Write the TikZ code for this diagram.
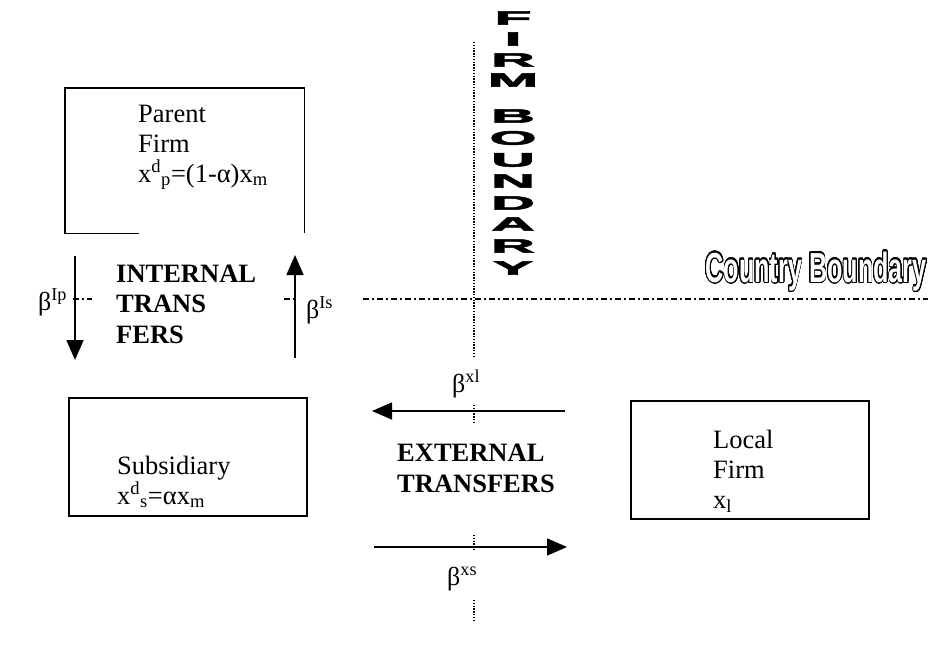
\documentclass[tikz,border=0pt]{standalone}
\usepackage{fontspec}
\setmainfont{Liberation Serif}
\newfontfamily\heavysans{Liberation Sans Bold}[FakeBold=2.5]
\newfontfamily\roundsans{Liberation Sans Bold}
\usepackage{contour}
\contourlength{1.3pt}
\contournumber{32}
\usetikzlibrary{arrows.meta}
\tikzset{
  boxline/.style={line width=1.6pt},
  bigarrow/.style={line width=1.6pt,-{Triangle[length=20pt,width=17pt]}},
  dashdotline/.style={line width=1.4pt,dash pattern=on 6pt off 3pt on 2pt off 3pt},
  dottedline/.style={line width=1.4pt,dash pattern=on 1.4pt off 1.4pt},
  boxtext/.style={anchor=base west,align=left,inner sep=0pt,font=\fontsize{26.5}{30}\selectfont},
  boldtext/.style={anchor=base west,align=left,inner sep=0pt,font=\fontsize{26.5}{30.5}\selectfont\bfseries},
  betalabel/.style={anchor=base west,inner sep=0pt,font=\fontsize{26}{30}\selectfont},
  firmletter/.style={inner sep=0pt,font=\fontsize{19.5}{19.5}\heavysans},
  frame/.style={inner sep=0pt,anchor=north west},
}
\newcommand{\fl}[1]{\scalebox{3.1}[1]{#1}}
\begin{document}
\begin{tikzpicture}[x=1pt,y=-1pt]
\useasboundingbox (0,0) rectangle (936,657);

% boundaries
\coordinate (cbA1) at (73,299);  \coordinate (cbA2) at (92,299);
\coordinate (cbB1) at (284,299); \coordinate (cbB2) at (298,299);
\coordinate (cbC1) at (363,299); \coordinate (cbC2) at (928,299);
\draw[dashdotline] (cbA1) -- (cbA2);
\draw[dashdotline] (cbB1) -- (cbB2);
\draw[dashdotline] (cbC1) -- (cbC2);

\coordinate (fb1) at (474,42);  \coordinate (fb2) at (474,357);
\coordinate (fb3) at (474,405); \coordinate (fb4) at (474,424);
\coordinate (fb5) at (474,535); \coordinate (fb6) at (474,550);
\coordinate (fb7) at (474,600); \coordinate (fb8) at (474,620);
\draw[dottedline] (fb1) -- (fb2);
\draw[dottedline] (fb3) -- (fb4);
\draw[dottedline] (fb5) -- (fb6);
\draw[dottedline] (fb7) -- (fb8);

% FIRM BOUNDARY letters
\node[firmletter] (f1) at (513,18) {\fl{F}};
\node[firmletter] (f2) at (513,39) {\fl{I}};
\node[firmletter] (f3) at (513,60) {\fl{R}};
\node[firmletter] (f4) at (513,80) {\fl{M}};
\node[firmletter] (f5) at (513,116) {\fl{B}};
\node[firmletter] (f6) at (513,138) {\fl{O}};
\node[firmletter] (f7) at (513,160) {\fl{U}};
\node[firmletter] (f8) at (513,181) {\fl{N}};
\node[firmletter] (f9) at (513,203) {\fl{D}};
\node[firmletter] (f10) at (513,224) {\fl{A}};
\node[firmletter] (f11) at (513,246) {\fl{R}};
\node[firmletter] (f12) at (513,268) {\fl{Y}};

% Country Boundary
\node[anchor=base east,inner sep=0pt,font=\fontsize{42}{42}\roundsans] (cb) at (927,282)
  {\scalebox{0.6}[1]{\color{white}\contour{black}{Country Boundary}}};

% boxes
\node[frame,minimum width=239pt,minimum height=145pt] (parent) at (65,88) {};
\draw[boxline] ([xshift=74pt]parent.south west) -- (parent.south west) -- (parent.north west)
  -- (parent.north east) -- (parent.south east);
\node[frame,draw,boxline,minimum width=238pt,minimum height=118pt] (subs) at (68,397) {};
\node[frame,draw,boxline,minimum width=238pt,minimum height=118pt] (local) at (630,400) {};

% box texts (anchored at the baseline of the last line)
\node[boxtext] (ptext) at (138,182) {Parent\\Firm\\x\textsuperscript{d}\textsubscript{p}=(1-α)x\textsubscript{m}};
\node[boxtext] (stext) at (117,504) {Subsidiary\\x\textsuperscript{d}\textsubscript{s}=αx\textsubscript{m}};
\node[boxtext] (ltext) at (713,508) {Local\\Firm\\x\textsubscript{l}};

% transfer texts
\node[boldtext] (itext) at (116,343) {INTERNAL\\TRANS\\FERS};
\node[boldtext] (etext) at (397,492) {EXTERNAL\\TRANSFERS};

% arrows
\coordinate (ipS) at (75,256);  \coordinate (ipE) at (75,360);
\coordinate (isS) at (295,358); \coordinate (isE) at (295,255);
\coordinate (xlS) at (565,411); \coordinate (xlE) at (372,411);
\coordinate (xsS) at (374,547); \coordinate (xsE) at (567,547);
\draw[bigarrow] (ipS) -- (ipE);
\draw[bigarrow] (isS) -- (isE);
\draw[bigarrow] (xlS) -- (xlE);
\draw[bigarrow] (xsS) -- (xsE);

% beta labels
\node[betalabel] (bip) at (38,310) {β\textsuperscript{Ip}};
\node[betalabel] (bis) at (306,318) {β\textsuperscript{Is}};
\node[betalabel] (bxl) at (452,392) {β\textsuperscript{xl}};
\node[betalabel] (bxs) at (447,585) {β\textsuperscript{xs}};
\end{tikzpicture}
\end{document}
